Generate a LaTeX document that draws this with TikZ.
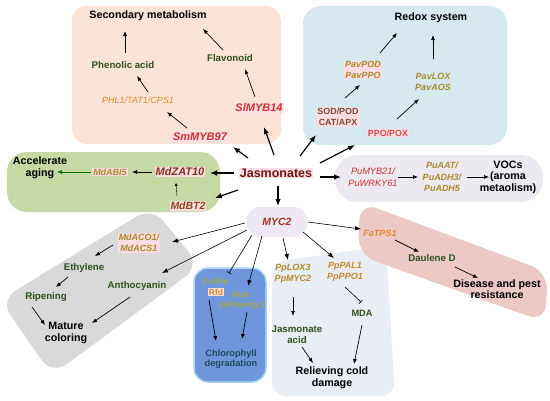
\documentclass[tikz,border=0pt]{standalone}
\usepackage{fontspec}
\setmainfont{Liberation Sans}
\usetikzlibrary{arrows.meta}
\definecolor{peach}{HTML}{FBE4D5}
\definecolor{redoxbg}{HTML}{D5E9EF}
\definecolor{greenbg}{HTML}{C6D9A4}
\definecolor{vocbg}{HTML}{ECE9F1}
\definecolor{mycbg}{HTML}{EDE8F2}
\definecolor{graybg}{HTML}{D9D9D9}
\definecolor{bluebg}{HTML}{6F95DB}
\definecolor{bluebd}{HTML}{A9D6F2}
\definecolor{coldbg}{HTML}{E9EDF4}
\definecolor{pinkbox}{HTML}{ECC8C6}
\definecolor{pinkhl}{HTML}{FBDDE3}
\definecolor{dgreen}{HTML}{2F4F1F}
\definecolor{olivec}{HTML}{A88A2A}
\definecolor{orangec}{HTML}{DD8A2A}
\definecolor{redc}{HTML}{CC3030}
\definecolor{maroonc}{HTML}{6B1A10}
\definecolor{zatc}{HTML}{8B2F1C}
\definecolor{bt2c}{HTML}{8A4A1A}
\definecolor{sodc}{HTML}{7A4A3A}
\definecolor{tealc}{HTML}{1F4A5A}
\definecolor{fvc}{HTML}{9AB040}
\definecolor{nonyc}{HTML}{A8A840}
\begin{document}
\begin{tikzpicture}[x=1pt,y=-1pt,
  lbl/.style={inner sep=1pt, align=center},
  head/.style={lbl, font=\bfseries\fontsize{10.7}{11.5}\selectfont, text=black},
  mid/.style={lbl, font=\bfseries\fontsize{9.7}{11}\selectfont, text=dgreen},
  gene/.style={lbl, font=\bfseries\itshape\fontsize{9}{10.5}\selectfont, text=olivec},
  igene/.style={lbl, font=\itshape\fontsize{9}{10.5}\selectfont, text=orangec},
  big/.style={lbl, font=\bfseries\itshape\fontsize{11}{12}\selectfont},
  hl/.style={fill=pinkhl},
  arr/.style={-{Latex[length=5pt,width=4pt]}, line width=0.7pt},
  jarr/.style={-{Latex[length=7pt,width=5.5pt]}, line width=1.2pt},
  marr/.style={-{Latex[length=6pt,width=4.5pt]}, line width=0.6pt},
  tee/.style={-{Bar[width=5pt]}, line width=0.6pt}]
\useasboundingbox (0,0) rectangle (550,400);
\fill[white] (0,0) rectangle (550,400);
% background boxes
\fill[peach, rounded corners=15pt] (72,6) rectangle (281,144);
\fill[redoxbg, rounded corners=18pt] (303,6) rectangle (507,145);
\fill[greenbg, rounded corners=20pt] (7,152) rectangle (220,212);
\fill[vocbg, rounded corners=22pt] (335,155) rectangle (543,202);
\fill[graybg, rounded corners=18pt] (0,300) -- (152,207) -- (200,266) -- (52,375) -- cycle;
\draw[fill=bluebg, draw=bluebd, line width=1.5pt, rounded corners=14pt] (194,268) rectangle (266,382);
\fill[coldbg, rounded corners=14pt] (272,262) -- (386,246) -- (395,396) -- (272,396) -- cycle;
\fill[pinkbox, rounded corners=18pt] (360,202) -- (548,272) -- (545,322) -- (358,255) -- cycle;
% headings
\node[head] (secm) at (148,16) {Secondary metabolism};
\node[head] (redox) at (431,18) {Redox system};
\node[head] (accel) at (40,168) {Accelerate\\aging};
\node[head] (vocs) at (508,177) {VOCs\\(aroma\\metaolism)};
\node[head] (mature) at (66,333) {Mature\\coloring};
\node[lbl, font=\bfseries\fontsize{9.2}{10.5}\selectfont, text=tealc] (chloro) at (231,359) {Chlorophyll\\degradation};
\node[head] (relieve) at (332,378) {Relieving cold\\damage};
\node[head] (disease) at (497,289) {Disease and pest\\resistance};
% intermediates
\node[mid] (phen) at (123,65) {Phenolic acid};
\node[mid] (flav) at (230,58) {Flavonoid};
\node[mid] (ethy) at (84,268) {Ethylene};
\node[mid] (ripe) at (46,297) {Ripening};
\node[mid] (antho) at (137,286) {Anthocyanin};
\node[mid] (jacid) at (297,335) {Jasmonate\\acid};
\node[mid, font=\bfseries\fontsize{9.2}{11}\selectfont] (mda) at (362,313) {MDA};
\node[mid] (daul) at (432,258) {Daulene D};
% genes
\node[igene] (phl) at (138,100) {PHL1/TAT1/CPS1};
\node[big, hl, text=redc] (smmyb) at (200,137) {SmMYB97};
\node[big, hl, text=redc] (slmyb) at (259,108) {SlMYB14};
\node[gene, hl] (pavpod) at (363,70) {PavPOD\\PavPPO};
\node[lbl, hl, font=\bfseries\fontsize{8.9}{10.5}\selectfont, text=sodc] (sod) at (338,117) {SOD/POD\\CAT/APX};
\node[lbl, hl, font=\bfseries\fontsize{8.9}{10.5}\selectfont, text=redc!85!white] (ppo) at (388,133) {PPO/POX};
\node[gene] (pavlox) at (433,82) {PavLOX\\PavAOS};
\node[gene, hl] (mdabi) at (110,172) {MdABI5};
\node[big, hl, text=zatc] (mdzat) at (180,172) {MdZAT10};
\node[big, hl, text=bt2c, font=\bfseries\itshape\fontsize{10.5}{12}\selectfont] (mdbt) at (188,206) {MdBT2};
\node[lbl, hl, font=\bfseries\fontsize{12.5}{14}\selectfont, text=maroonc] (jas) at (276,173) {Jasmonates};
\node[lbl, fill=mycbg, rounded corners=14pt, minimum width=61pt, minimum height=30pt, font=\bfseries\itshape\fontsize{10.5}{12}\selectfont, text=zatc!70!redc] (myc) at (277,222) {MYC2};
\node[lbl, font=\itshape\fontsize{9.2}{11.5}\selectfont, text=redc] (pumyb) at (373,177) {PuMYB21/\\PuWRKY61};
\node[gene, font=\bfseries\itshape\fontsize{9}{11.5}\selectfont] (puaat) at (442,177) {PuAAT/\\PuADH3/\\PuADH5};
\node[gene, hl] (mdaco) at (139,243) {MdACO1/\\MdACS1};
\node[lbl, font=\bfseries\fontsize{8.5}{10}\selectfont, text=fvc] (fvfm) at (216,282) {Fv/Fm};
\node[lbl, hl, font=\bfseries\fontsize{8.5}{10}\selectfont, text=orangec, inner sep=0.5pt] (rfd) at (216,292) {Rfd};
\node[lbl, font=\bfseries\fontsize{8.5}{10}\selectfont, text=nonyc] (nony) at (242,300) {Non-\\yellowing 1};
\node[gene, text=olivec!80!orangec] (pplox) at (293,274) {PpLOX3\\PpMYC2};
\node[gene, text=olivec!50!orangec] (pppal) at (345,272) {PpPAL1\\PpPPO1};
\node[gene, text=orangec] (fatps) at (380,233) {FaTPS1};
% connectors: secondary metabolism
\draw[arr] ([shift={(2,-12)}]phen.center) -- ([shift={(-23,15)}]secm.center);
\draw[arr] ([shift={(10,-8)}]phl.center) -- ([shift={(14,11)}]phen.center);
\draw[arr] ([shift={(-13,-9)}]smmyb.center) -- ([shift={(29,12)}]phl.center);
\draw[arr] ([shift={(-7,-8)}]flav.center) -- ([shift={(55,13)}]secm.center);
\draw[arr] ([shift={(-4,-11)}]slmyb.center) -- ([shift={(15,11)}]flav.center);
% from Jasmonates
\draw[jarr] ([shift={(-28,-15)}]jas.center) -- ([shift={(33,10)}]smmyb.center);
\draw[jarr] ([shift={(-2,-18)}]jas.center) -- ([shift={(5,19)}]slmyb.center);
\draw[jarr] ([shift={(24,-17)}]jas.center) -- ([shift={(-22,18)}]sod.center);
\draw[jarr] ([shift={(44,-10)}]jas.center) -- ([shift={(-33,12)}]ppo.center);
\draw[jarr] ([shift={(-42,0)}]jas.center) -- ([shift={(30,1)}]mdzat.center);
\draw[jarr] ([shift={(-38,17)}]jas.center) -- ([shift={(27,-8)}]mdbt.center);
\draw[jarr] ([shift={(2,13)}]jas.center) -- ([shift={(1,-16)}]myc.center);
\draw[jarr] ([shift={(44,4)}]jas.center) -- ([shift={(-32,0)}]pumyb.center);
% redox
\draw[arr] ([shift={(7,-19)}]sod.center) -- ([shift={(-3,15)}]pavpod.center);
\draw[arr] ([shift={(17,-17)}]pavpod.center) -- ([shift={(-34,15)}]redox.center);
\draw[arr] ([shift={(9,-14)}]ppo.center) -- ([shift={(-14,17)}]pavlox.center);
\draw[arr] ([shift={(0,-23)}]pavlox.center) -- ([shift={(2,17)}]redox.center);
% aging
\draw[arr] ([shift={(-28,0)}]mdzat.center) -- ([shift={(22,0)}]mdabi.center);
\draw[arr, draw=green!45!black] ([shift={(-19,0)}]mdabi.center) -- ([shift={(17,4)}]accel.center);
\draw[-{Latex[length=3pt,width=3pt]}, line width=0.4pt] ([shift={(-11,-10)}]mdbt.center) -- ([shift={(-4,11)}]mdzat.center);
% VOCs
\draw[arr] ([shift={(25,0)}]pumyb.center) -- ([shift={(-24,0)}]puaat.center);
\draw[arr] ([shift={(25,0)}]puaat.center) -- ([shift={(-19,0)}]vocs.center);
% from MYC2
\draw[marr] ([shift={(-32,1)}]myc.center) -- ([shift={(33,-1)}]mdaco.center);
\draw[marr] ([shift={(-30,8)}]myc.center) -- ([shift={(25,-13)}]antho.center);
\draw[tee] ([shift={(-25,13)}]myc.center) -- ([shift={(13,-9)}]fvfm.center);
\draw[marr] ([shift={(-15,14)}]myc.center) -- ([shift={(6,-14)}]nony.center);
\draw[marr] ([shift={(6,16)}]myc.center) -- ([shift={(-5,-14)}]pplox.center);
\draw[marr] ([shift={(26,10)}]myc.center) -- ([shift={(-11,-14)}]pppal.center);
\draw[marr] ([shift={(31,0)}]myc.center) -- ([shift={(-19,-4)}]fatps.center);
% coloring
\draw[arr] ([shift={(-26,2)}]mdaco.center) -- ([shift={(11,-12)}]ethy.center);
\draw[arr] ([shift={(-16,9)}]ethy.center) -- ([shift={(10,-10)}]ripe.center);
\draw[arr] ([shift={(-14,10)}]ripe.center) -- ([shift={(-21,-8)}]mature.center);
\draw[arr] ([shift={(-7,11)}]antho.center) -- ([shift={(26,-10)}]mature.center);
% chlorophyll
\draw[arr] ([shift={(-7,8)}]rfd.center) -- ([shift={(-15,-18)}]chloro.center);
\draw[arr] ([shift={(5,12)}]nony.center) -- ([shift={(11,-20)}]chloro.center);
% cold
\draw[arr] ([shift={(0,23)}]pplox.center) -- ([shift={(-4,-19)}]jacid.center);
\draw[arr] ([shift={(5,12)}]jacid.center) -- ([shift={(-19,-15)}]relieve.center);
\draw[tee] ([shift={(0,15)}]pppal.center) -- ([shift={(-1,-11)}]mda.center);
\draw[arr] ([shift={(0,12)}]mda.center) -- ([shift={(22,-14)}]relieve.center);
% disease
\draw[arr] ([shift={(15,7)}]fatps.center) -- ([shift={(-13,-6)}]daul.center);
\draw[arr] ([shift={(23,9)}]daul.center) -- ([shift={(-19,-11)}]disease.center);
\end{tikzpicture}
\end{document}
